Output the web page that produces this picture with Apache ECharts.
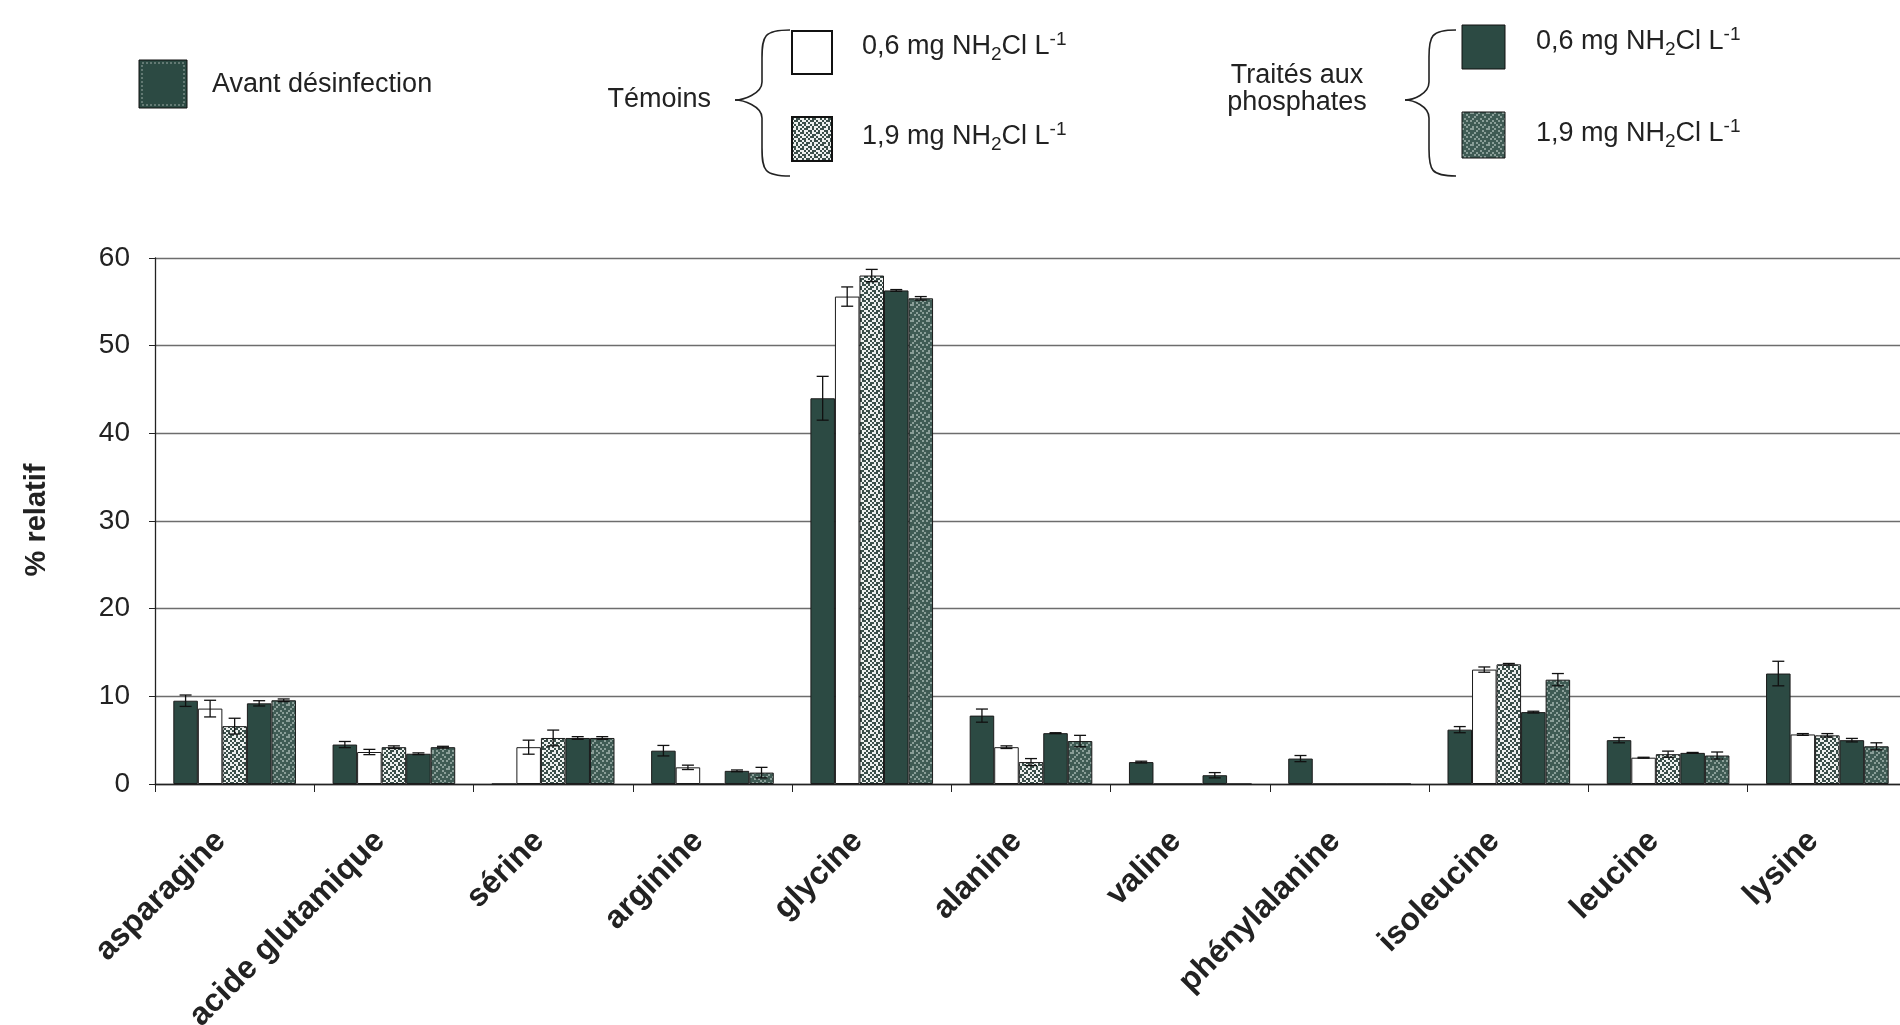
<!DOCTYPE html>
<html><head><meta charset="utf-8">
<script src="https://cdn.jsdelivr.net/npm/echarts@6/dist/echarts.min.js"></script>
<style>html,body{margin:0;padding:0;background:#fff}#c{width:1900px;height:1025px}</style>
</head><body><div id="c"></div>
<script>
// ---- data ----
const categories = ['asparagine','acide glutamique','sérine','arginine','glycine','alanine','valine','phénylalanine','isoleucine','leucine','lysine'];
const avant        = [9.5, 4.5, 0,    3.8, 44.0, 7.8, 2.5, 2.9, 6.2,  5.0,  12.6];
const avantErr     = [0.65,0.35,0,    0.6, 2.5,  0.75,0.1, 0.35,0.35, 0.3,  1.4];
const temoins06    = [8.6, 3.65,4.2,  1.9, 55.6, 4.2, 0,   0,   13.05,3.0,  5.65];
const temoins06Err = [0.95,0.3, 0.8,  0.25,1.1,  0.15,0,   0,   0.3,  0.05, 0.1];
const temoins19    = [6.6, 4.2, 5.25, 0,   58.0, 2.5, 0,   0,   13.65,3.4,  5.55];
const temoins19Err = [0.9, 0.15,0.9,  0,   0.7,  0.4, 0,   0,   0.1,  0.35, 0.2];
const traites06    = [9.2, 3.45,5.25, 1.5, 56.3, 5.8, 1.0, 0,   8.2,  3.55, 5.0];
const traites06Err = [0.3, 0.1, 0.15, 0.1, 0.1,  0.05,0.3, 0,   0.1,  0.05, 0.2];
const traites19    = [9.55,4.2, 5.25, 1.3, 55.4, 4.9, 0,   0,   11.9, 3.25, 4.3];
const traites19Err = [0.15,0.1, 0.15, 0.6, 0.2,  0.65,0,   0,   0.7,  0.4,  0.4];
const yTicks = [0, 10, 20, 30, 40, 50, 60];
const yAxisTitle = '% relatif';
const legendAvant = 'Avant désinfection';
const legendTemoins = 'Témoins';
const legendTraites = ['Traités aux', 'phosphates'];
const doseLow = '0,6';
const doseHigh = '1,9';

// ---- styles ----
const FONT = '"Liberation Sans", Arial, sans-serif';
const DARK = '#2c4a43';
const GAP = 0.23;
const LEG_FS = 27;

function makePattern(bg, fg, mask, cell) {
  const n = mask.length;
  const c = document.createElement('canvas');
  c.width = c.height = n * cell;
  const ctx = c.getContext('2d');
  ctx.fillStyle = bg; ctx.fillRect(0, 0, c.width, c.height);
  ctx.fillStyle = fg;
  for (let r = 0; r < n; r++) for (let k = 0; k < n; k++) {
    if (mask[r][k] === '1') ctx.fillRect(k * cell, r * cell, cell, cell);
  }
  return { image: c, repeat: 'repeat' };
}
const maskA = ['10110010','01001101','11010100','00101011','10010110','01101001','10100101','01011010'];
const maskB = ['10010001','00100100','01000010','10001000','00100101','01010000','00001010','10100100'];
const patLight = makePattern('#eef1ef', '#3b4f4a', maskA, 2);
const patDark = makePattern('#3f5b54', '#8a9e98', maskB, 2);

const seriesDefs = [
  { vals: avant, errs: avantErr, color: DARK },
  { vals: temoins06, errs: temoins06Err, color: '#ffffff' },
  { vals: temoins19, errs: temoins19Err, color: patLight },
  { vals: traites06, errs: traites06Err, color: DARK },
  { vals: traites19, errs: traites19Err, color: patDark }
];

const series = [];
seriesDefs.forEach((d, idx) => {
  series.push({
    type: 'bar', data: d.vals, barGap: '0%', barCategoryGap: (GAP * 100) + '%',
    itemStyle: { color: d.color, borderColor: '#1b1b1b', borderWidth: 1 },
    silent: true, z: 2
  });
});
seriesDefs.forEach((d, idx) => {
  series.push({
    type: 'custom', z: 10, silent: true,
    encode: { x: 0, y: 1 },
    data: d.vals.map((v, i) => [i, v, d.errs[i]]),
    renderItem(params, api) {
      const i = api.value(0), v = api.value(1), e = api.value(2);
      if (!e) return null;
      const band = api.size([1, 0])[0];
      const bw = band * (1 - GAP) / 5;
      const cx = api.coord([i, v])[0] + (idx - 2) * bw;
      const yT = api.coord([i, v + e])[1], yB = api.coord([i, Math.max(0, v - e)])[1];
      const hw = 6;
      const st = { stroke: '#111', lineWidth: 1.3 };
      return { type: 'group', children: [
        { type: 'line', shape: { x1: cx, y1: yT, x2: cx, y2: yB }, style: st },
        { type: 'line', shape: { x1: cx - hw, y1: yT, x2: cx + hw, y2: yT }, style: st },
        { type: 'line', shape: { x1: cx - hw, y1: yB, x2: cx + hw, y2: yB }, style: st }
      ]};
    }
  });
});

function doseText(x, y, dose) {
  return {
    type: 'text', x: x, y: y,
    style: {
      text: '{a|' + dose + ' mg NH}{s|2}{a|Cl L}{p|-1}',
      textVerticalAlign: 'middle', textAlign: 'left',
      rich: {
        a: { fontSize: LEG_FS, fontFamily: FONT, fill: '#222', lineHeight: 34 },
        s: { fontSize: 19, fontFamily: FONT, fill: '#222', lineHeight: 19, verticalAlign: 'bottom' },
        p: { fontSize: 19, fontFamily: FONT, fill: '#222', lineHeight: 20, verticalAlign: 'top' }
      }
    }
  };
}
function brace(xEnd, xStem, xTip, yTop, yMid, yBot) {
  const r = xEnd - xStem;
  const st = { fill: null, stroke: '#222', lineWidth: 1.6 };
  return { type: 'group', children: [
    { type: 'bezierCurve', shape: { x1: xEnd, y1: yTop, x2: xStem, y2: yTop + r, cpx1: xStem + 2, cpy1: yTop, cpx2: xStem, cpy2: yTop + 6 }, style: st },
    { type: 'line', shape: { x1: xStem, y1: yTop + r, x2: xStem, y2: yMid - 18 }, style: st },
    { type: 'bezierCurve', shape: { x1: xStem, y1: yMid - 18, x2: xTip, y2: yMid, cpx1: xStem, cpy1: yMid - 6, cpx2: xTip + 8, cpy2: yMid }, style: st },
    { type: 'bezierCurve', shape: { x1: xTip, y1: yMid, x2: xStem, y2: yMid + 18, cpx1: xTip + 8, cpy1: yMid, cpx2: xStem, cpy2: yMid + 6 }, style: st },
    { type: 'line', shape: { x1: xStem, y1: yMid + 18, x2: xStem, y2: yBot - r }, style: st },
    { type: 'bezierCurve', shape: { x1: xStem, y1: yBot - r, x2: xEnd, y2: yBot, cpx1: xStem, cpy1: yBot - 6, cpx2: xStem + 2, cpy2: yBot }, style: st }
  ]};
}

const graphics = [
  { type: 'rect', shape: { x: 139, y: 60, width: 48, height: 48 }, style: { fill: DARK, stroke: '#111', lineWidth: 1 } },
  { type: 'rect', shape: { x: 142, y: 63, width: 42, height: 42 }, style: { fill: null, stroke: '#9aa9a5', lineWidth: 1, lineDash: [2, 2] } },
  { type: 'text', x: 212, y: 85, style: { text: legendAvant, fontSize: LEG_FS, fontFamily: FONT, fill: '#222', textVerticalAlign: 'middle' } },
  { type: 'text', x: 711, y: 100, style: { text: legendTemoins, fontSize: LEG_FS, fontFamily: FONT, fill: '#222', textAlign: 'right', textVerticalAlign: 'middle' } },
  brace(790, 762, 735, 30, 100, 176),
  { type: 'rect', shape: { x: 792, y: 31, width: 40, height: 43 }, style: { fill: '#fff', stroke: '#111', lineWidth: 2 } },
  doseText(862, 47, doseLow),
  { type: 'rect', shape: { x: 792, y: 117, width: 40, height: 44 }, style: { fill: patLight, stroke: '#111', lineWidth: 2 } },
  doseText(862, 137, doseHigh),
  { type: 'text', x: 1297, y: 76, style: { text: legendTraites[0], fontSize: LEG_FS, fontFamily: FONT, fill: '#222', textAlign: 'center', textVerticalAlign: 'middle' } },
  { type: 'text', x: 1297, y: 103, style: { text: legendTraites[1], fontSize: LEG_FS, fontFamily: FONT, fill: '#222', textAlign: 'center', textVerticalAlign: 'middle' } },
  brace(1456, 1429, 1405, 30, 100, 176),
  { type: 'rect', shape: { x: 1462, y: 25, width: 43, height: 44 }, style: { fill: DARK, stroke: '#111', lineWidth: 1 } },
  doseText(1536, 42, doseLow),
  { type: 'rect', shape: { x: 1462, y: 112, width: 43, height: 46 }, style: { fill: patDark, stroke: '#111', lineWidth: 1 } },
  doseText(1536, 134, doseHigh),
  { type: 'text', x: 37, y: 520, rotation: Math.PI / 2, style: { text: yAxisTitle, fontSize: 29, fontWeight: 'bold', fontFamily: FONT, fill: '#222', textAlign: 'center', textVerticalAlign: 'middle' } }
];

const chart = echarts.init(document.getElementById('c'), null, { renderer: 'canvas' });
chart.setOption({
  animation: false,
  backgroundColor: '#fff',
  grid: { left: 155, top: 258, width: 1752, height: 526, containLabel: false, outerBoundsMode: 'none' },
  xAxis: {
    type: 'category', data: categories,
    axisLine: { show: true, lineStyle: { color: '#222', width: 1.3 } },
    axisTick: { show: true, interval: 0, length: 8, lineStyle: { color: '#222' } },
    axisLabel: { interval: 0, rotate: 45, margin: 38, padding: [0, 20, 0, 0], fontSize: 32, fontWeight: 'bold', fontFamily: FONT, color: '#222' }
  },
  yAxis: {
    type: 'value', min: yTicks[0], max: yTicks[yTicks.length - 1], interval: 10,
    axisLine: { show: true, lineStyle: { color: '#222', width: 1.3 } },
    axisTick: { show: true, length: 6, lineStyle: { color: '#222' } },
    axisLabel: { fontSize: 28, fontFamily: FONT, color: '#222', margin: 25 },
    splitLine: { show: true, lineStyle: { color: '#6d6d6d', width: 1.3 } }
  },
  series: series,
  graphic: graphics
});
</script></body></html>
